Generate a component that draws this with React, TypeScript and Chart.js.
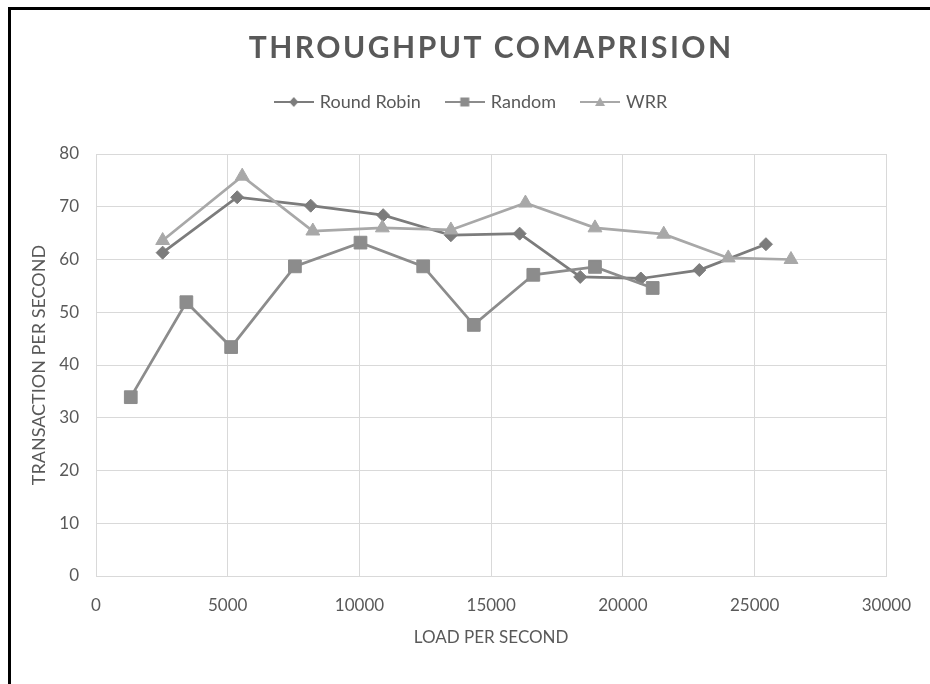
import React, { useEffect, useRef } from 'react';
import { Chart, registerables } from 'chart.js';

Chart.register(...registerables);

const TITLE = 'THROUGHPUT COMAPRISION';
const X_TITLE = 'LOAD PER SECOND';
const Y_TITLE = 'TRANSACTION PER SECOND';
const SERIES_NAMES = ['Round Robin', 'Random', 'WRR'];

const rrLoad = [2530, 5360, 8150, 10900, 13470, 16080, 18380, 20680, 22900, 25430];
const rrTps = [61.3, 71.8, 70.2, 68.4, 64.6, 64.9, 56.7, 56.4, 58.0, 62.9];

const randomLoad = [1320, 3430, 5130, 7550, 10040, 12420, 14340, 16600, 18940, 21130];
const randomTps = [33.9, 51.9, 43.4, 58.7, 63.2, 58.7, 47.6, 57.1, 58.6, 54.6];

const wrrLoad = [2530, 5550, 8230, 10870, 13470, 16300, 18940, 21550, 24000, 26380];
const wrrTps = [63.6, 75.8, 65.4, 66.0, 65.6, 70.7, 66.0, 64.8, 60.3, 60.0];

const X_MIN = 0;
const X_MAX = 30000;
const X_STEP = 5000;
const Y_MIN = 0;
const Y_MAX = 80;
const Y_STEP = 10;

const COLORS = ['#7c7c7c', '#8c8c8c', '#a8a8a8'];
const SHAPES = ['rectRot', 'rect', 'triangle'];
const RADII = [6.5, 9, 8];

const TEXT = '#595959';
const GRID = '#d9d9d9';

function toPoints(xs: number[], ys: number[]) {
  return xs.map((x, i) => ({ x, y: ys[i] }));
}

function legendImage(color: string, shape: string) {
  const c = document.createElement('canvas');
  c.width = 40;
  c.height = 16;
  const ctx = c.getContext('2d')!;
  ctx.strokeStyle = color;
  ctx.lineWidth = 2;
  ctx.beginPath();
  ctx.moveTo(0, 8);
  ctx.lineTo(40, 8);
  ctx.stroke();
  ctx.fillStyle = color;
  ctx.beginPath();
  if (shape === 'rectRot') {
    ctx.moveTo(20, 3);
    ctx.lineTo(24.5, 8);
    ctx.lineTo(20, 13);
    ctx.lineTo(15.5, 8);
  } else if (shape === 'rect') {
    ctx.rect(15.5, 3.5, 9, 9);
  } else {
    ctx.moveTo(20, 3);
    ctx.lineTo(25, 12);
    ctx.lineTo(15, 12);
  }
  ctx.closePath();
  ctx.fill();
  return c;
}

const titleSpacing = {
  id: 'titleSpacing',
  afterLayout(chart: any) {
    const lg = chart.legend;
    if (lg) {
      lg.left += 22;
      lg.right += 22;
    }
  },
  beforeDraw(chart: any) {
    const tb = chart.titleBlock;
    if (tb && !tb.__patched) {
      const orig = tb.draw.bind(tb);
      tb.draw = (...args: any[]) => {
        const ctx = chart.ctx;
        ctx.save();
        (ctx as any).letterSpacing = '2.5px';
        orig(...args);
        ctx.restore();
      };
      tb.__patched = true;
    }
  },
};

export default function App() {
  const ref = useRef<HTMLCanvasElement>(null);

  useEffect(() => {
    const canvas = ref.current!;
    const images = COLORS.map((c, i) => legendImage(c, SHAPES[i]));
    const seriesData = [
      toPoints(rrLoad, rrTps),
      toPoints(randomLoad, randomTps),
      toPoints(wrrLoad, wrrTps),
    ];
    const chart = new Chart(canvas, {
      type: 'line',
      data: {
        datasets: SERIES_NAMES.map((name, i) => ({
          label: name,
          data: seriesData[i],
          borderColor: COLORS[i],
          backgroundColor: COLORS[i],
          borderWidth: 2.75,
          pointStyle: SHAPES[i] as any,
          pointRadius: RADII[i],
          pointBorderWidth: 1,
          pointBackgroundColor: COLORS[i],
          pointBorderColor: COLORS[i],
          tension: 0,
          fill: false,
          order: SERIES_NAMES.length - i,
        })),
      },
      options: {
        responsive: false,
        animation: false,
        layout: { padding: { top: 0, right: 41, bottom: 0, left: 0 } },
        plugins: {
          tooltip: { enabled: false },
          title: {
            display: true,
            text: TITLE,
            color: TEXT,
            fullSize: false,
            font: { family: 'Lato', size: 30, weight: 'bold' },
            padding: { top: 20, bottom: 0 },
          },
          legend: {
            display: true,
            position: 'top',
            fullSize: true,
            labels: {
              usePointStyle: true,
              pointStyleWidth: 34,
              padding: 27,
              color: TEXT,
              font: { family: 'Lato', size: 18 },
              generateLabels: (ch: any) => {
                const items = (Chart.defaults.plugins.legend.labels as any).generateLabels(ch);
                return items
                  .sort((a: any, b: any) => a.datasetIndex - b.datasetIndex)
                  .map((it: any) => ({ ...it, pointStyle: images[it.datasetIndex], fontColor: TEXT }));
              },
            },
          },
          subtitle: {
            display: true,
            text: '',
            weight: 500,
            font: { family: 'Lato', size: 10 },
            padding: { top: 21, bottom: 0 },
          } as any,
        },
        scales: {
          x: {
            type: 'linear',
            min: X_MIN,
            max: X_MAX,
            ticks: {
              stepSize: X_STEP,
              color: TEXT,
              font: { family: 'Lato', size: 17 },
              padding: 19,
              maxRotation: 0,
              autoSkip: false,
              callback: (v: any) => String(v),
            },
            grid: { color: GRID, lineWidth: 1, drawTicks: false },
            border: { color: GRID, width: 1 },
            title: {
              display: true,
              text: X_TITLE,
              color: TEXT,
              font: { family: 'Lato', size: 17 },
              padding: { top: 0, bottom: 36 },
            },
            afterFit: (s: any) => {
              s.height = 108;
            },
          },
          y: {
            type: 'linear',
            min: Y_MIN,
            max: Y_MAX,
            ticks: {
              stepSize: Y_STEP,
              color: TEXT,
              font: { family: 'Lato', size: 17 },
              padding: 17,
            },
            grid: { color: GRID, lineWidth: 1, drawTicks: false },
            border: { color: GRID, width: 1 },
            title: {
              display: true,
              text: Y_TITLE,
              color: TEXT,
              font: { family: 'Lato', size: 18 },
              padding: { top: 17, bottom: 0 },
            },
            afterFit: (s: any) => {
              s.width = 85;
            },
          },
        },
      },
      plugins: [titleSpacing],
    } as any);
    return () => chart.destroy();
  }, []);

  return (
    <div
      style={{
        position: 'fixed',
        left: 8,
        top: 7,
        right: 0,
        bottom: 0,
        borderLeft: '3px solid #000',
        borderTop: '3px solid #000',
        background: '#fff',
        overflow: 'hidden',
      }}
    >
      <canvas ref={ref} width={919} height={674} style={{ display: 'block', width: 919, height: 674 }} />
    </div>
  );
}
